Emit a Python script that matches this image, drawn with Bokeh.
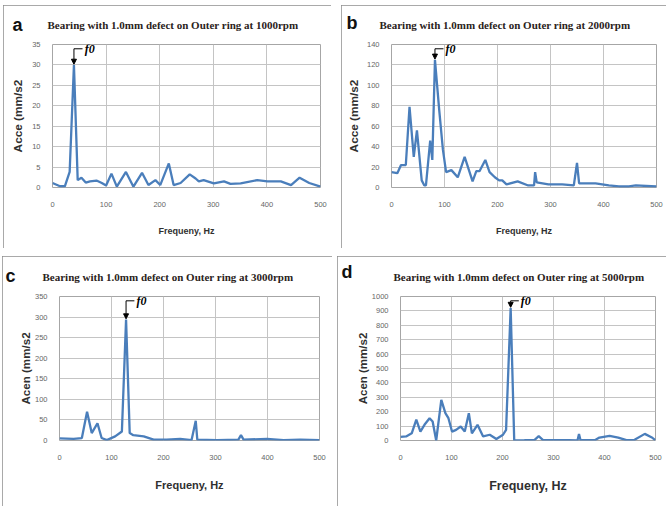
from bokeh.plotting import figure
from bokeh.layouts import column, row
from bokeh.models import Arrow, NormalHead, FixedTicker, Range1d, Title
from bokeh.core.properties import value
from bokeh.embed import file_html
from bokeh.resources import INLINE

# ---------------- data ----------------
x_ticks = [0, 100, 200, 300, 400, 500]

a_title = "Bearing with 1.0mm defect on Outer ring at 1000rpm"
a_freq = [0, 14, 23, 32, 40, 47, 54, 62, 70, 82, 92, 100, 110, 120, 137, 151, 167, 179,
          192, 201, 217, 226, 239, 256, 267, 273, 282, 301, 320, 332, 351, 382, 401, 426,
          445, 461, 479, 500]
a_acc = [1.1, 0.3, 0.3, 3.8, 30.0, 1.8, 2.4, 1.2, 1.5, 1.7, 1.1, 0.5, 3.4, 0.2, 3.8, 0.2,
         3.6, 0.6, 1.8, 0.6, 5.9, 0.6, 1.1, 3.2, 2.2, 1.5, 1.8, 1.0, 1.5, 0.9, 1.0, 1.8,
         1.5, 1.5, 0.6, 2.4, 1.1, 0.2]
a_yticks = [0, 5, 10, 15, 20, 25, 30, 35]

b_title = "Bearing with 1.0mm defect on Outer ring at 2000rpm"
b_freq = [0, 11, 18, 27, 34, 42, 48, 57, 62, 65, 73, 77, 82, 90, 97, 103, 113, 125, 138,
          153, 160, 166, 177, 185, 195, 203, 209, 217, 238, 258, 269, 271, 274, 296, 322,
          344, 350, 354, 385, 410, 429, 448, 461, 500]
b_acc = [15, 14, 22, 22, 79, 30, 56, 7, 2, 2, 46, 27, 125, 76, 37, 15, 17, 10, 30, 6, 16,
         16, 27, 15, 10, 7, 7, 3, 6, 2, 2, 15, 5, 3, 3, 2, 24, 4, 4, 2, 1, 1, 2, 1]
b_yticks = [0, 20, 40, 60, 80, 100, 120, 140]

c_title = "Bearing with 1.0mm defect on Outer ring at  3000rpm"
c_freq = [0, 27, 43, 53, 62, 73, 81, 91, 107, 120, 128, 135, 142, 162, 181, 206, 232, 254,
          262, 265, 303, 344, 349, 354, 399, 431, 463, 500]
c_acc = [5, 4, 6, 70, 18, 42, 6, 1, 10, 22, 294, 18, 13, 10, 2, 2, 4, 1, 48, 2, 1, 2, 13,
         2, 4, 1, 2, 1]
c_yticks = [0, 50, 100, 150, 200, 250, 300, 350]

d_title = "Bearing with 1.0mm defect on Outer ring at 5000rpm"
d_freq = [0, 11, 22, 31, 39, 47, 57, 63, 70, 80, 88, 94, 101, 109, 118, 126, 134, 140, 151,
          162, 175, 188, 201, 207, 216, 223, 243, 263, 271, 279, 329, 347, 350, 353, 381,
          390, 410, 427, 443, 459, 479, 492, 500]
d_acc = [25, 28, 50, 145, 62, 109, 155, 132, 0, 282, 190, 155, 62, 74, 97, 62, 190, 50, 109,
         28, 40, 10, 40, 74, 920, 0, 2, 5, 30, 5, 2, 0, 45, 2, 2, 20, 32, 20, 2, 5, 46, 23, 2]
d_yticks = [0, 100, 200, 300, 400, 500, 600, 700, 800, 900, 1000]

x_title = "Frequeny, Hz"
peak_label = "f0"

LINE = "#4a7ebb"
GRID = "#c4c4c4"


def panel(letter, title, ytitle, freq, acc, yticks, *, w, h, bl, br, bt, bb, margin,
          toff, ysize, xsize, ystand, tstand, loff, lstand):
    ymax = yticks[-1]
    p = figure(width=w, height=h, x_range=Range1d(0, 500), y_range=Range1d(0, ymax),
               output_backend="svg", toolbar_location=None,
               min_border_left=bl, min_border_right=br, min_border_top=bt,
               min_border_bottom=bb, margin=margin,
               styles={"outline": "2px solid #8c8c8c", "outline-offset": "-2px"})
    # panel letter (outermost title row, pulled down onto the title's line)
    p.title.text = letter
    p.title.align = "left"
    p.title.offset = loff
    p.title.standoff = lstand
    p.title.text_font = "Liberation Sans"
    p.title.text_font_style = "bold"
    p.title.text_font_size = "18px"
    p.title.text_color = "#111111"

    # chart title (row next to the frame)
    p.add_layout(Title(text=title, align="left", offset=toff, standoff=tstand,
                       vertical_align="middle",
                       text_font="Liberation Serif", text_font_style="bold",
                       text_font_size="11px", text_color="#2a2220"), "above")

    p.xaxis.ticker = FixedTicker(ticks=x_ticks)
    p.yaxis.ticker = FixedTicker(ticks=yticks)
    for ax in (p.xaxis[0], p.yaxis[0]):
        ax.axis_line_color = None
        ax.major_tick_line_color = None
        ax.minor_tick_line_color = None
        ax.major_label_text_font = "Liberation Sans"
        ax.major_label_text_font_size = "7.5px"
        ax.major_label_text_color = "#666666"
        ax.axis_label_text_font = "Liberation Sans"
        ax.axis_label_text_font_style = "bold"
        ax.axis_label_text_color = "#303030"
    p.xaxis.major_label_standoff = 8
    p.yaxis.major_label_standoff = 6
    p.xaxis.axis_label = x_title
    p.xaxis.axis_label_text_font_size = xsize
    p.xaxis.axis_label_standoff = 16
    p.yaxis.axis_label = ytitle
    p.yaxis.axis_label_text_font_size = ysize
    p.yaxis.axis_label_standoff = ystand

    p.xgrid.grid_line_color = GRID
    p.ygrid.grid_line_color = GRID
    p.outline_line_color = "#a6a6a6"
    p.outline_line_width = 1

    p.line(freq, acc, line_color=LINE, line_width=2.3)

    # peak marker f0
    i = max(range(len(acc)), key=lambda k: acc[k])
    px, py = freq[i], acc[i]
    top = ymax * 0.97
    p.segment(x0=[px], y0=[top], x1=[px + 16], y1=[top], line_color="black", line_width=1)
    p.add_layout(Arrow(end=NormalHead(size=5, fill_color="black", line_color="black"),
                       x_start=px, y_start=top, x_end=px, y_end=py + ymax * 0.005,
                       line_color="black", line_width=1))
    p.text(x=[px + 20], y=[top], text=[peak_label], text_font=value("Liberation Serif"),
           text_font_style="bold italic", text_font_size="12px", text_baseline="middle",
           text_color="black")
    return p


pa = panel("a", a_title, "Acce (mm/s2", a_freq, a_acc, a_yticks,
           w=328, h=243, bl=49, br=11, bt=39, bb=61, margin=(5, 0, 0, 3),
           toff=-5, ysize="11.8px", xsize="9px", ystand=4, tstand=24.5,
           loff=-40, lstand=-59)
pb = panel("b", b_title, "Acce (mm/s2", b_freq, b_acc, b_yticks,
           w=325, h=243, bl=50, br=10, bt=39, bb=61, margin=(5, 0, 0, 10),
           toff=-12, ysize="11.8px", xsize="9px", ystand=3, tstand=24.5,
           loff=-45, lstand=-55)
pc = panel("c", c_title, "Acen (mm/s2", c_freq, c_acc, c_yticks,
           w=330, h=250, bl=57, br=13, bt=40, bb=64, margin=(8, 0, 0, 2),
           toff=-17, ysize="11.6px", xsize="11px", ystand=0, tstand=25.5,
           loff=-54, lstand=-59)
pd = panel("d", d_title, "Acen (mm/s2", d_freq, d_acc, d_yticks,
           w=329, h=250, bl=63, br=11, bt=40, bb=66, margin=(8, 0, 0, 5),
           toff=-7, ysize="11.5px", xsize="12.5px", ystand=0, tstand=25.5,
           loff=-59, lstand=-51)

layout = column(row(pa, pb), row(pc, pd))
open("out.html", "w").write(file_html(layout, INLINE))
